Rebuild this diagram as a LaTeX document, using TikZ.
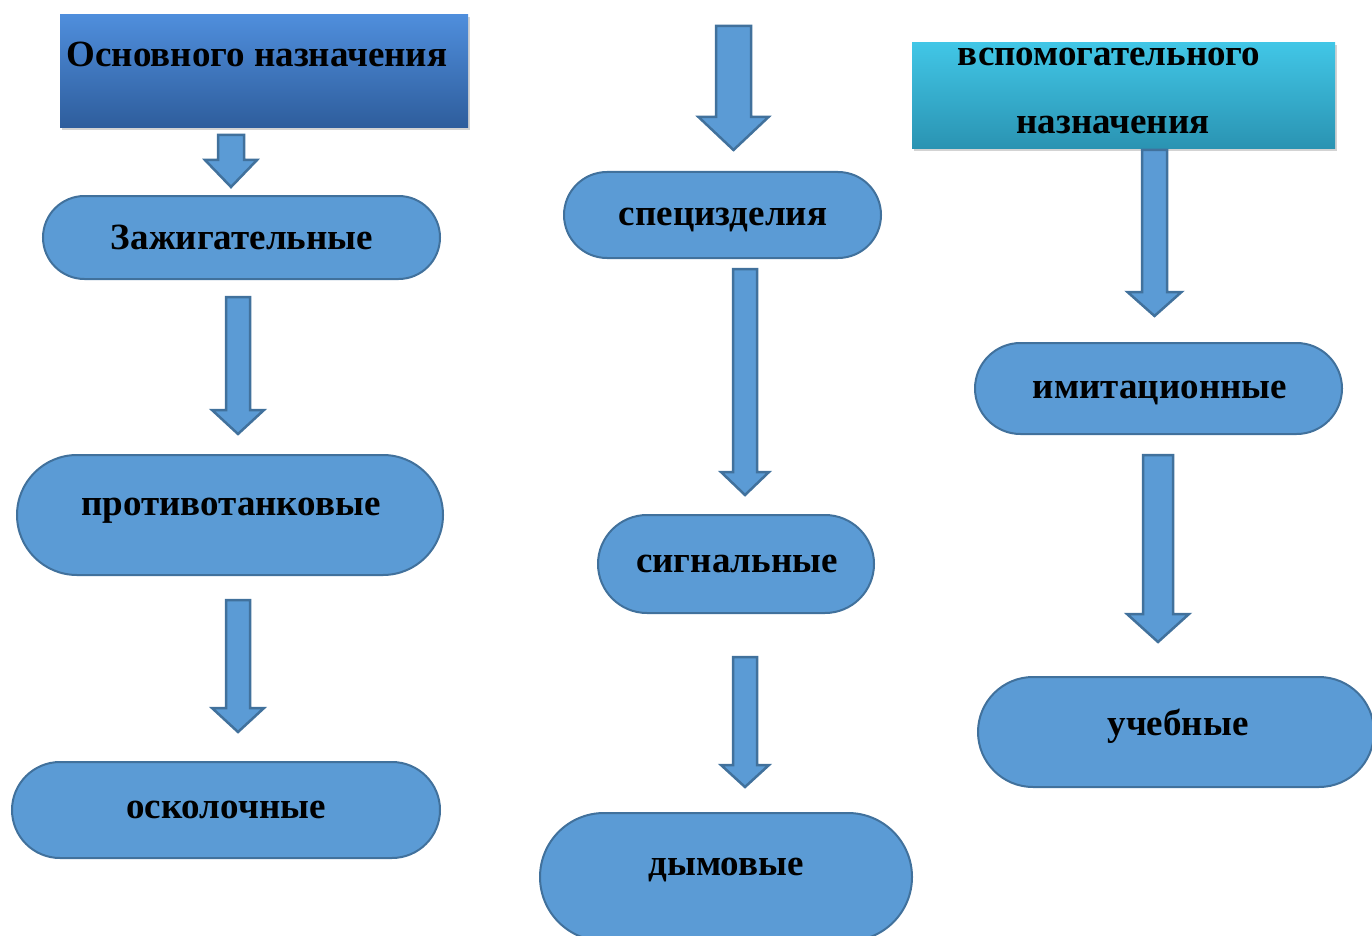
\documentclass[tikz,border=0pt]{standalone}
\usepackage{fontspec}
\setmainfont{Liberation Serif}
\usetikzlibrary{shapes.misc,shadows}
\definecolor{boxfill}{HTML}{5B9BD5}
\definecolor{boxline}{HTML}{41719C}
\definecolor{hOneTop}{HTML}{4F8EDC}
\definecolor{hOneBot}{HTML}{2E5D9C}
\definecolor{hTwoTop}{HTML}{41C6E6}
\definecolor{hTwoBot}{HTML}{2A93B2}
\newcommand\dnarrowshape[6]{%
  \draw[arr] (#1-#2,#4) -- (#1+#2,#4) -- (#1+#2,#5) -- (#1+#3,#5) -- (#1,#6)
    -- (#1-#3,#5) -- (#1-#2,#5) -- cycle;}
\tikzset{
  stad/.style={rounded rectangle, draw=boxline, fill=boxfill, line width=2pt, inner sep=0pt},
  arr/.style={draw=boxline, fill=boxfill, line width=2.5pt, line join=miter},
  lbl/.style={font=\fontsize{37}{40}\selectfont\bfseries, anchor=base, inner sep=0pt, text=black},
  hdr/.style={rectangle, inner sep=0pt, drop shadow={shadow xshift=2pt, shadow yshift=-2pt, opacity=0.35}},
}
\begin{document}
\begin{tikzpicture}[x=1pt,y=-1pt]
\useasboundingbox (0,0) rectangle (1372,936);
\clip (0,0) rectangle (1372,936);
% headers
\node[hdr, top color=hOneTop, bottom color=hOneBot, minimum width=408pt, minimum height=113pt] (h1) at (264,71.5) {};
\node[lbl] (h1t) at (257,67) {Основного назначения};
\node[hdr, top color=hTwoTop, bottom color=hTwoBot, minimum width=423pt, minimum height=106pt] (h2) at (1123.5,96) {};
\node[lbl] (h2a) at (1109,66) {вспомогательного};
\node[lbl] (h2b) at (1113,134) {назначения};
% left column
\node[stad, minimum width=397pt, minimum height=83pt] (s1) at (241.5,237.5) {};
\node[lbl] (s1t) at (242,249) {Зажигательные};
\node[stad, minimum width=426pt, minimum height=120pt] (s2) at (230,515) {};
\node[lbl] (s2t) at (231,515) {противотанковые};
\node[stad, minimum width=428pt, minimum height=96pt] (s3) at (226,810) {};
\node[lbl] (s3t) at (226,818) {осколочные};
% middle column
\node[stad, minimum width=317pt, minimum height=86pt] (s4) at (722.5,215) {};
\node[lbl] (s4t) at (723,225) {специзделия};
\node[stad, minimum width=276pt, minimum height=98pt] (s5) at (736,564) {};
\node[lbl] (s5t) at (737,572) {сигнальные};
\node[stad, minimum width=372pt, minimum height=128pt] (s6) at (726,877) {};
\node[lbl] (s6t) at (726,875) {дымовые};
% right column
\node[stad, minimum width=367pt, minimum height=91pt] (s7) at (1158.5,388.5) {};
\node[lbl] (s7t) at (1160,398) {имитационные};
\node[stad, minimum width=396pt, minimum height=110pt] (s8) at (1176,732) {};
\node[lbl] (s8t) at (1178,735) {учебные};
% arrows
\dnarrowshape{231}{13}{26}{135}{160}{187}
\dnarrowshape{238}{12}{26}{297}{410}{434}
\dnarrowshape{238}{12}{26}{600}{708}{732}
\dnarrowshape{733.5}{17.5}{35}{26}{117}{150}
\dnarrowshape{745}{12}{24}{269}{472}{495}
\dnarrowshape{745}{12}{24}{657}{765}{787}
\dnarrowshape{1154.5}{12.5}{27}{150}{292}{316}
\dnarrowshape{1158}{15}{31}{455}{614}{642}
\end{tikzpicture}
\end{document}
